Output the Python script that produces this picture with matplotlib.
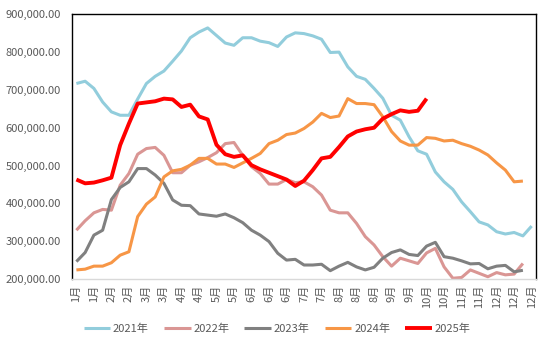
import matplotlib
matplotlib.use("Agg")
import matplotlib.pyplot as plt
from matplotlib.ticker import FuncFormatter

plt.rcParams['font.family'] = ['Noto Sans CJK SC', 'DejaVu Sans']

# weekly values (53 weeks per year)
weeks = list(range(53))
week_labels = ["1月", "1月", "2月", "2月", "3月", "3月", "4月", "4月", "5月", "5月",
               "6月", "6月", "6月", "7月", "7月", "8月", "8月", "8月", "9月", "9月",
               "10月", "10月", "11月", "11月", "12月", "12月", "12月"]

y2021 = [717, 723, 704, 668, 642, 633, 633, 676, 717, 736, 750, 776, 803, 838, 853, 864,
         844, 824, 818, 838, 838, 829, 825, 815, 840, 851, 849, 843, 834, 799, 800, 761,
         736, 728, 704, 678, 633, 620, 576, 539, 530, 483, 457, 437, 404, 378, 351, 343,
         325, 319, 323, 314, 340]
y2022 = [329, 354, 375, 384, 382, 448, 479, 530, 545, 548, 527, 481, 481, 501, 510, 521,
         534, 558, 561, 527, 497, 479, 451, 451, 463, 455, 457, 444, 422, 382, 375, 375,
         347, 312, 290, 259, 234, 255, 248, 241, 269, 281, 232, 202, 204, 224, 215, 206,
         217, 211, 213, 241]
y2023 = [246, 270, 316, 329, 410, 442, 457, 492, 492, 475, 453, 409, 395, 394, 372, 369,
         366, 372, 362, 349, 329, 316, 299, 268, 250, 252, 237, 237, 239, 222, 234, 244,
         232, 224, 231, 255, 270, 277, 265, 262, 287, 297, 259, 255, 248, 240, 241, 227,
         234, 236, 219, 223]
y2024 = [224, 226, 234, 234, 243, 263, 272, 365, 398, 417, 470, 486, 490, 501, 519, 519,
         504, 504, 495, 507, 519, 532, 558, 567, 582, 586, 598, 615, 638, 627, 631, 677,
         664, 664, 661, 629, 590, 565, 554, 554, 574, 572, 565, 567, 558, 551, 541, 528,
         507, 488, 457, 459]
y2025 = [463, 453, 455, 461, 468, 554, 611, 664, 667, 670, 677, 675, 655, 661, 630, 622,
         555, 530, 523, 527, 501, 490, 481, 472, 463, 446, 460, 488, 519, 523, 549, 577,
         590, 596, 600, 624, 636, 646, 642, 645, 677]

series = [
    ("2021年", y2021, "#92CDDC", 2.2),
    ("2022年", y2022, "#DA9694", 2.2),
    ("2023年", y2023, "#808080", 2.2),
    ("2024年", y2024, "#F79646", 2.2),
    ("2025年", y2025, "#FF0000", 2.8),
]

fig = plt.figure(figsize=(5.41, 3.39), dpi=100)
ax = fig.add_axes([0.1331, 0.1770, 0.8577, 0.7808])

for name, vals, color, lw in series:
    ax.plot(weeks[:len(vals)], [v * 1000 for v in vals], color=color, lw=lw,
            label=name, solid_joinstyle='round', solid_capstyle='butt')

ax.set_xlim(-0.5, 52.5)
ax.set_ylim(200000, 900000)
ax.set_yticks(range(200000, 900001, 100000))
ax.yaxis.set_major_formatter(FuncFormatter(lambda v, p: f"{v:,.2f}"))
ax.set_xticks(weeks[::2])
ax.set_xticklabels(week_labels, rotation=90, va='top', ha='center')

ax.tick_params(axis='both', length=0, colors='#595959', labelsize=8)
ax.tick_params(axis='y', pad=8)
ax.tick_params(axis='x', pad=4)

for side in ('left', 'top', 'right'):
    ax.spines[side].set_color('black')
    ax.spines[side].set_linewidth(1.0)
ax.spines['bottom'].set_color('#D9D9D9')
ax.spines['bottom'].set_linewidth(1.0)

leg = fig.legend(loc='center', bbox_to_anchor=(0.512, 0.029), ncol=5, frameon=False,
                 fontsize=8, handlelength=2.4, handletextpad=0.25, columnspacing=1.35)
for t in leg.get_texts():
    t.set_color('#595959')

fig.savefig("out.png", dpi=100)
